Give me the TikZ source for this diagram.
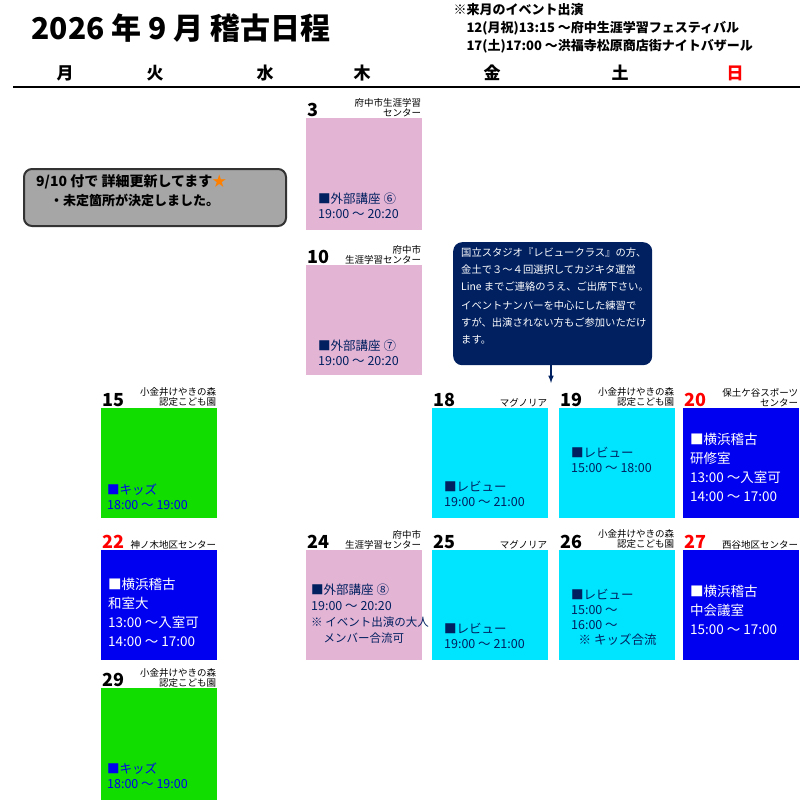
\documentclass[tikz,border=0pt]{standalone}
\usepackage{fontspec}
\setmainfont{Noto Sans CJK JP}
\usepackage{tikz}
\definecolor{pinkbox}{HTML}{E4B4D4}
\definecolor{cyanbox}{HTML}{00E5FF}
\definecolor{greenbox}{HTML}{12DD00}
\definecolor{bluebox}{HTML}{0000F0}
\definecolor{navy}{HTML}{002060}
\tikzset{
  day/.style={anchor=north west, minimum width=116pt, inner sep=0pt},
  num/.style={anchor=south west, font=\fontsize{18}{18}\selectfont\bfseries, inner sep=1pt},
  place/.style={anchor=south east, font=\fontsize{9.5}{10}\selectfont, align=right, inner sep=1pt},
  body/.style={anchor=north west, font=\fontsize{12.5}{15}\selectfont, align=left, inner sep=0pt},
  wday/.style={font=\fontsize{17}{17}\selectfont\bfseries}
}
\begin{document}
\begin{tikzpicture}[x=1pt,y=-1pt]
  \useasboundingbox (0,0) rectangle (800,800);

  % header
  \node[anchor=west, font=\fontsize{30}{30}\selectfont\bfseries] (title) at (28,28) {2026 年 9 月 稽古日程};
  \node[anchor=north west, align=left, font=\fontsize{13}{18}\selectfont\bfseries] (event) at (450,0)
    {※来月のイベント出演\\\hspace{1em}12(月祝)13:15 ～府中生涯学習フェスティバル\\\hspace{1em}17(土)17:00 ～洪福寺松原商店街ナイトバザール};
  \node[wday] (mon) at (65,73) {月};
  \node[wday] (tue) at (155,73) {火};
  \node[wday] (wed) at (265,73) {水};
  \node[wday] (thu) at (362,73) {木};
  \node[wday] (fri) at (492,73) {金};
  \node[wday] (sat) at (620,73) {土};
  \node[wday, text=red] (sun) at (735,73) {日};
  \draw[line width=2.5pt] (13,87) -- (800,87);

  % note
  \node[draw=black!80, line width=2pt, fill=black!35, rounded corners=8pt, anchor=north west,
        minimum width=262pt, minimum height=57pt] (note) at (23,168) {};
  \node[anchor=north west, align=left, font=\fontsize{14}{19}\selectfont\bfseries, inner sep=0pt] (notetext) at (36,174)
    {9/10 付で 詳細更新してます{\color{orange}★}\\\hspace{1em}\fontsize{13}{16}\selectfont・未定箇所が決定しました。};

  % bubble
  \node[fill=navy, rounded corners=9pt, anchor=north west, minimum width=199pt, minimum height=123pt] (bubble) at (453,242) {};
  \node[anchor=north west, align=left, text=white, font=\fontsize{10.3}{17}\selectfont, inner sep=0pt] (bubbletext) at (461,248)
    {国立スタジオ『レビュークラス』の方、\\金土で３～４回選択してカジキタ運営\\Line までご連絡のうえ、ご出席下さい。\\[2pt]イベントナンバーを中心にした練習で\\すが、出演されない方もご参加いただけ\\ます。};
  \coordinate (arrowend) at (551,383);
  \draw[navy, line width=1.5pt, -latex] (551,365) -- (arrowend);

  % row 1
  \node[day, fill=pinkbox, minimum height=112pt] (d3) at (306,118) {};
  \node[num] at (d3.north west) {3};
  \node[place] at (d3.north east) {府中市生涯学習\\センター};
  \node[body, text=navy] at (318,193) {■外部講座 ⑥\\19:00 ～ 20:20};

  % row 2
  \node[day, fill=pinkbox, minimum height=110pt] (d10) at (306,265) {};
  \node[num] at (d10.north west) {10};
  \node[place] at (d10.north east) {府中市\\生涯学習センター};
  \node[body, text=navy] at (318,340) {■外部講座 ⑦\\19:00 ～ 20:20};

  % row 3
  \node[day, fill=greenbox, minimum height=110pt] (d15) at (101,408) {};
  \node[num] at (d15.north west) {15};
  \node[place] at (d15.north east) {小金井けやきの森\\認定こども園};
  \node[body, text=bluebox] at (107,484) {■キッズ\\18:00 ～ 19:00};
  \node[day, fill=cyanbox, minimum height=110pt] (d18) at (432,408) {};
  \node[num] at (d18.north west) {18};
  \node[place] at (d18.north east) {マグノリア};
  \node[body, text=navy] at (444,481) {■レビュー\\19:00 ～ 21:00};
  \node[day, fill=cyanbox, minimum height=110pt] (d19) at (559,408) {};
  \node[num] at (d19.north west) {19};
  \node[place] at (d19.north east) {小金井けやきの森\\認定こども園};
  \node[body, text=navy] at (571,447) {■レビュー\\15:00 ～ 18:00};
  \node[day, fill=bluebox, minimum height=110pt] (d20) at (683,408) {};
  \node[num, text=red] at (d20.north west) {20};
  \node[place] at (d20.north east) {保土ケ谷スポーツ\\センター};
  \node[body, text=white, font=\fontsize{13.5}{19}\selectfont] at (690,433) {■横浜稽古\\研修室\\13:00 ～入室可\\14:00 ～ 17:00};

  % row 4
  \node[day, fill=bluebox, minimum height=110pt] (d22) at (101,550) {};
  \node[num, text=red] at (d22.north west) {22};
  \node[place] at (d22.north east) {神ノ木地区センター};
  \node[body, text=white, font=\fontsize{13.5}{19}\selectfont] at (108,578) {■横浜稽古\\和室大\\13:00 ～入室可\\14:00 ～ 17:00};
  \node[day, fill=pinkbox, minimum height=110pt] (d24) at (306,550) {};
  \node[num] at (d24.north west) {24};
  \node[place] at (d24.north east) {府中市\\生涯学習センター};
  \node[body, text=navy, font=\fontsize{12.5}{16}\selectfont] at (311,584) {■外部講座 ⑧\\19:00 ～ 20:20\\{\fontsize{11.5}{16}\selectfont ※ イベント出演の大人}\\\hspace{1em}{\fontsize{11.5}{16}\selectfont メンバー合流可}};
  \node[day, fill=cyanbox, minimum height=110pt] (d25) at (432,550) {};
  \node[num] at (d25.north west) {25};
  \node[place] at (d25.north east) {マグノリア};
  \node[body, text=navy] at (444,623) {■レビュー\\19:00 ～ 21:00};
  \node[day, fill=cyanbox, minimum height=110pt] (d26) at (559,550) {};
  \node[num] at (d26.north west) {26};
  \node[place] at (d26.north east) {小金井けやきの森\\認定こども園};
  \node[body, text=navy] at (571,589) {■レビュー\\15:00 ～\\16:00 ～\\\hspace{0.6em}※ キッズ合流};
  \node[day, fill=bluebox, minimum height=110pt] (d27) at (683,550) {};
  \node[num, text=red] at (d27.north west) {27};
  \node[place] at (d27.north east) {西谷地区センター};
  \node[body, text=white, font=\fontsize{13.5}{19}\selectfont] at (690,585) {■横浜稽古\\中会議室\\15:00 ～ 17:00};

  % row 5
  \node[day, fill=greenbox, minimum height=112pt] (d29) at (101,688) {};
  \node[num] at (d29.north west) {29};
  \node[place] at (d29.north east) {小金井けやきの森\\認定こども園};
  \node[body, text=bluebox] at (107,763) {■キッズ\\18:00 ～ 19:00};
\end{tikzpicture}
\end{document}
